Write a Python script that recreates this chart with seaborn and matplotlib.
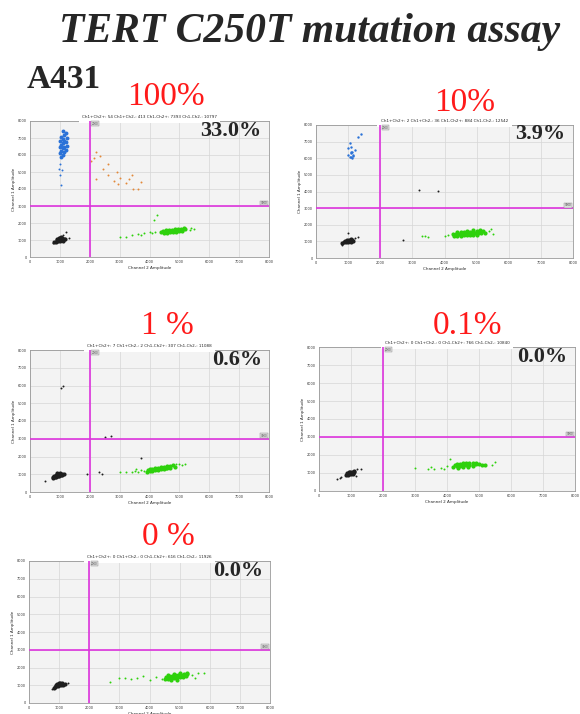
import matplotlib
matplotlib.use("Agg")
import matplotlib.pyplot as plt
import seaborn as sns
import pandas as pd

# ---- panel labels ----
spike_labels = ['100%', '10%', '1 %', '0.1%', '0 %']
frac_labels = ['33.0%', '3.9%', '0.6%', '0.0%', '0.0%']
count_titles = ['Ch1+Ch2+: 54 Ch1+Ch2-: 413 Ch1-Ch2+: 7393 Ch1-Ch2-: 10797',
                'Ch1+Ch2+: 2 Ch1+Ch2-: 36 Ch1-Ch2+: 884 Ch1-Ch2-: 12542',
                'Ch1+Ch2+: 7 Ch1+Ch2-: 2 Ch1-Ch2+: 307 Ch1-Ch2-: 11088',
                'Ch1+Ch2+: 0 Ch1+Ch2-: 0 Ch1-Ch2+: 766 Ch1-Ch2-: 10840',
                'Ch1+Ch2+: 0 Ch1+Ch2-: 0 Ch1-Ch2+: 616 Ch1-Ch2-: 11926']
ticks = [0, 1000, 2000, 3000, 4000, 5000, 6000, 7000, 8000]
thr_ch2 = 2000
thr_ch1 = 3000

# ---- droplets (Channel 2 amplitude, Channel 1 amplitude) ----
# panel 1: 100%
p1_black = [(880,900),(950,920),(1020,930),(1100,950),(900,1000),(980,1010),(1060,1020),(1130,1030),
            (920,1080),(1000,1090),(1080,1100),(960,1140),(1050,1150),(820,860),(1180,1060)]
p1_black_out = [(780,820),(1300,1100),(1200,1450),(1100,1300)]
p1_blue = [(1050,5900),(1100,6000),(1000,6100),(1150,6150),(1050,6250),(1200,6300),(1100,6400),
           (1000,6450),(1150,6500),(1250,6550),(1050,6600),(1100,6700),(1200,6750),(1000,6800),
           (1150,6850),(1100,6950),(1250,7000),(1050,7050),(1150,7150),(1200,7300),(1100,7400)]
p1_blue_out = [(980,5200),(1080,5100),(1000,4850),(1050,4250),(1000,5500)]
p1_orange = [(2050,5650),(2200,6200),(2350,5950),(2150,5800),(2450,5200),(2600,5500),(2900,5000),
             (3000,4650),(2800,4450),(3300,4600),(3400,4800),(3200,4350),(3600,4000),(3700,4400),
             (2600,4800),(2950,4300),(3450,4000),(2200,4600)]
p1_green = [(4400,1450),(4500,1480),(4600,1500),(4700,1520),(4800,1550),(4900,1570),(5000,1590),
            (5100,1610),(5200,1640),(4450,1530),(4550,1560),(4650,1580),(4750,1610),(4850,1630),
            (4950,1650),(5050,1670),(5150,1690),(4500,1400),(4600,1430),(4700,1450),(4800,1470),
            (4900,1490),(5000,1510),(5100,1530)]
p1_green_out = [(3000,1200),(3200,1150),(3400,1300),(3600,1350),(3800,1400),(4000,1450),(4100,1400),
                (4200,1500),(5350,1600),(5500,1650),(5400,1700),(3700,1300),(4150,2200),(4250,2500)]

# panel 2: 10%
p2_black = [(870,950),(940,960),(1010,970),(1080,990),(1140,1000),(900,1030),(980,1040),(1060,1050),
            (1130,1060),(950,1100),(1030,1110),(1100,1120),(820,900)]
p2_black_out = [(800,800),(1000,1500),(1300,1250),(1200,1200),(3200,4100),(3800,4050),(2700,1100)]
p2_blue = [(1000,6200),(1050,6100),(1100,6300),(1150,6200),(1080,6050),(1120,6400),(1000,6600),
           (1050,6900),(1100,6700),(1200,6500),(1300,7300),(1400,7450),(1150,6150),(1080,6350),(1130,6000)]
p2_green = [(4300,1350),(4400,1350),(4500,1350),(4600,1360),(4700,1370),(4800,1380),(4900,1390),(5000,1400),
            (4250,1450),(4350,1450),(4450,1450),(4550,1460),(4650,1470),(4750,1480),(4850,1490),(4950,1500),
            (5050,1510),(5150,1520),(5250,1530),(4400,1550),(4500,1550),(4600,1560),(4700,1570),(4800,1580),
            (4900,1590),(5000,1600),(5100,1610),(5200,1620),(4700,1650),(4900,1660),(5100,1680)]
p2_green_out = [(3400,1300),(3500,1250),(4000,1350),(4100,1400),(5400,1600),(5500,1450),(3300,1300),(5450,1750)]

# panel 3: 1%
p3_black = [(780,780),(830,820),(880,850),(930,880),(980,910),(1030,940),(1080,970),(1130,1000),
            (820,900),(870,930),(920,960),(970,990),(1020,1020),(1070,1040),(760,860),(900,1050),(1000,1080)]
p3_black_out = [(500,600),(1100,6000),(1050,5850),(2300,1100),(2400,1000),(2500,3100),(2700,3150),
                (1900,1000),(3700,1900)]
p3_green = [(3900,1150),(4000,1180),(4100,1200),(4200,1230),(4300,1260),(4400,1290),(4500,1320),
            (4600,1350),(4700,1380),(4000,1280),(4100,1300),(4200,1330),(4300,1360),(4400,1390),
            (4500,1420),(4600,1450),(4700,1480),(4800,1500),(3950,1230),(4250,1300),(4550,1380),(4850,1420)]
p3_green_out = [(3000,1100),(3200,1150),(3400,1100),(3500,1200),(3600,1150),(3700,1250),(3800,1200),
                (4900,1550),(5000,1600),(5200,1600),(5100,1500),(3550,1300)]

# panel 4: 0.1%
p4_black = [(850,900),(900,930),(950,960),(1000,990),(1050,1010),(1100,1040),(880,1000),(930,1030),
            (980,1060),(1030,1080),(1080,1100),(920,880),(1000,920),(1060,950)]
p4_black_out = [(550,650),(700,800),(650,750),(1300,1250),(1200,1200),(1150,850)]
p4_green = [(4200,1350),(4300,1380),(4400,1400),(4500,1420),(4600,1430),(4700,1450),(4800,1470),
            (4900,1480),(5000,1490),(4300,1480),(4400,1510),(4500,1530),(4600,1550),(4700,1560),
            (4800,1570),(4900,1560),(4350,1300),(4500,1320),(4650,1350),(4800,1380),(5100,1430),
            (5200,1450),(4250,1450)]
p4_green_out = [(3000,1300),(3400,1200),(3600,1250),(3800,1300),(3900,1250),(4000,1400),(4100,1800),
                (5400,1450),(5500,1600),(3500,1350)]

# panel 5: 0%
p5_black = [(850,900),(900,940),(950,970),(1000,1000),(1050,1030),(1100,1060),(880,1020),(930,1050),
            (980,1080),(1030,1110),(1080,1140),(1120,1000),(820,860),(1000,1150),(1200,1080)]
p5_black_out = [(750,800),(1300,1150)]
p5_green = [(4500,1350),(4600,1380),(4700,1400),(4800,1420),(4900,1450),(5000,1470),(5100,1490),
            (5200,1500),(4550,1480),(4650,1500),(4750,1520),(4850,1550),(4950,1570),(5050,1590),
            (5150,1610),(5250,1620),(4600,1600),(4800,1650),(5000,1680),(5250,1700),(4700,1300),(4900,1320)]
p5_green_out = [(2700,1200),(3000,1400),(3200,1400),(3400,1350),(3600,1400),(3800,1500),(4000,1300),
                (4200,1450),(4400,1350),(5400,1550),(5500,1400),(5600,1700),(5800,1700)]

BLACK = '#1e1e1e'
BLUE = '#2a72d8'
GREEN = '#2ed10c'
ORANGE = '#e3893a'

panels = [
    [(p1_black, BLACK, 9), (p1_black_out, BLACK, 2), (p1_blue, BLUE, 8), (p1_blue_out, BLUE, 2),
     (p1_orange, ORANGE, 2), (p1_green, GREEN, 9), (p1_green_out, GREEN, 2)],
    [(p2_black, BLACK, 9), (p2_black_out, BLACK, 2), (p2_blue, BLUE, 3), (p2_green, GREEN, 9),
     (p2_green_out, GREEN, 2)],
    [(p3_black, BLACK, 9), (p3_black_out, BLACK, 2), (p3_green, GREEN, 9), (p3_green_out, GREEN, 2)],
    [(p4_black, BLACK, 9), (p4_black_out, BLACK, 2), (p4_green, GREEN, 9), (p4_green_out, GREEN, 2)],
    [(p5_black, BLACK, 9), (p5_black_out, BLACK, 2), (p5_green, GREEN, 9), (p5_green_out, GREEN, 2)],
]

# layout in pixels: left, top, right, bottom
W, H = 580, 714
boxes = [(30, 121, 269, 257), (316, 125, 573, 258), (30, 350, 269, 492),
         (319, 347, 575, 491), (29, 561, 270, 703)]
spike_pos = [(166, 97), (465, 103), (167, 326), (467, 326), (168, 537)]

sns.set_style('white')
plt.rcParams['font.family'] = ['DejaVu Sans']
serif = 'Liberation Serif'

fig = plt.figure(figsize=(W / 100, H / 100), dpi=100)

fig.text(310 / W, 1 - 32 / H, 'TERT C250T mutation assay', ha='center', va='center',
         fontsize=30, family=serif, weight='bold', style='italic')
fig.text(27 / W, 1 - 79 / H, 'A431', ha='left', va='center', fontsize=24,
         family=serif, weight='bold')

for i, (l, t, r, b) in enumerate(boxes):
    ax = fig.add_axes([l / W, 1 - b / H, (r - l) / W, (b - t) / H])
    ax.set_facecolor('#f3f3f3')
    for c in panels[i]:
        df = pd.DataFrame(c[0], columns=['ch2', 'ch1'])
        sns.scatterplot(data=df, x='ch2', y='ch1', color=c[1], s=c[2], linewidth=0,
                        ax=ax, zorder=3, legend=False)
    ax.axvline(thr_ch2, color='#dd33dd', lw=1.2, zorder=4)
    ax.axhline(thr_ch1, color='#dd33dd', lw=1.2, zorder=4)
    ax.text(thr_ch2 + 60, 7950, '2000', fontsize=2, va='top', color='#444444',
            bbox=dict(fc='#dddddd', ec='#888888', lw=0.3, pad=0.3), zorder=5)
    ax.text(7950, thr_ch1 + 60, '3000', fontsize=2, ha='right', va='bottom', color='#444444',
            bbox=dict(fc='#dddddd', ec='#888888', lw=0.3, pad=0.3), zorder=5)
    ax.set_xlim(0, 8000)
    ax.set_ylim(0, 8000)
    ax.set_xticks(ticks)
    ax.set_yticks(ticks)
    ax.tick_params(labelsize=2.5, length=1.5, width=0.4, pad=1, colors='#333333')
    ax.grid(True, color='#d6d6d6', lw=0.5)
    ax.set_axisbelow(True)
    for s in ax.spines.values():
        s.set_color('#999999')
        s.set_linewidth(0.6)
    ax.set_xlabel('Channel 2 Amplitude', fontsize=3, labelpad=1)
    ax.set_ylabel('Channel 1 Amplitude', fontsize=3, labelpad=1)
    ax.set_title(count_titles[i], fontsize=3, pad=2,
                 bbox=dict(fc='white', ec='none', pad=2.5))
    ax.text(0.97, 0.93, frac_labels[i], transform=ax.transAxes, ha='right', va='center',
            fontsize=16, family=serif, weight='bold', zorder=6)
    x, y = spike_pos[i]
    fig.text(x / W, 1 - y / H, spike_labels[i], ha='center', va='center', fontsize=24,
             family=serif, color='#ff1a1a', zorder=-1)

fig.savefig('out.png', dpi=100, facecolor='white')
